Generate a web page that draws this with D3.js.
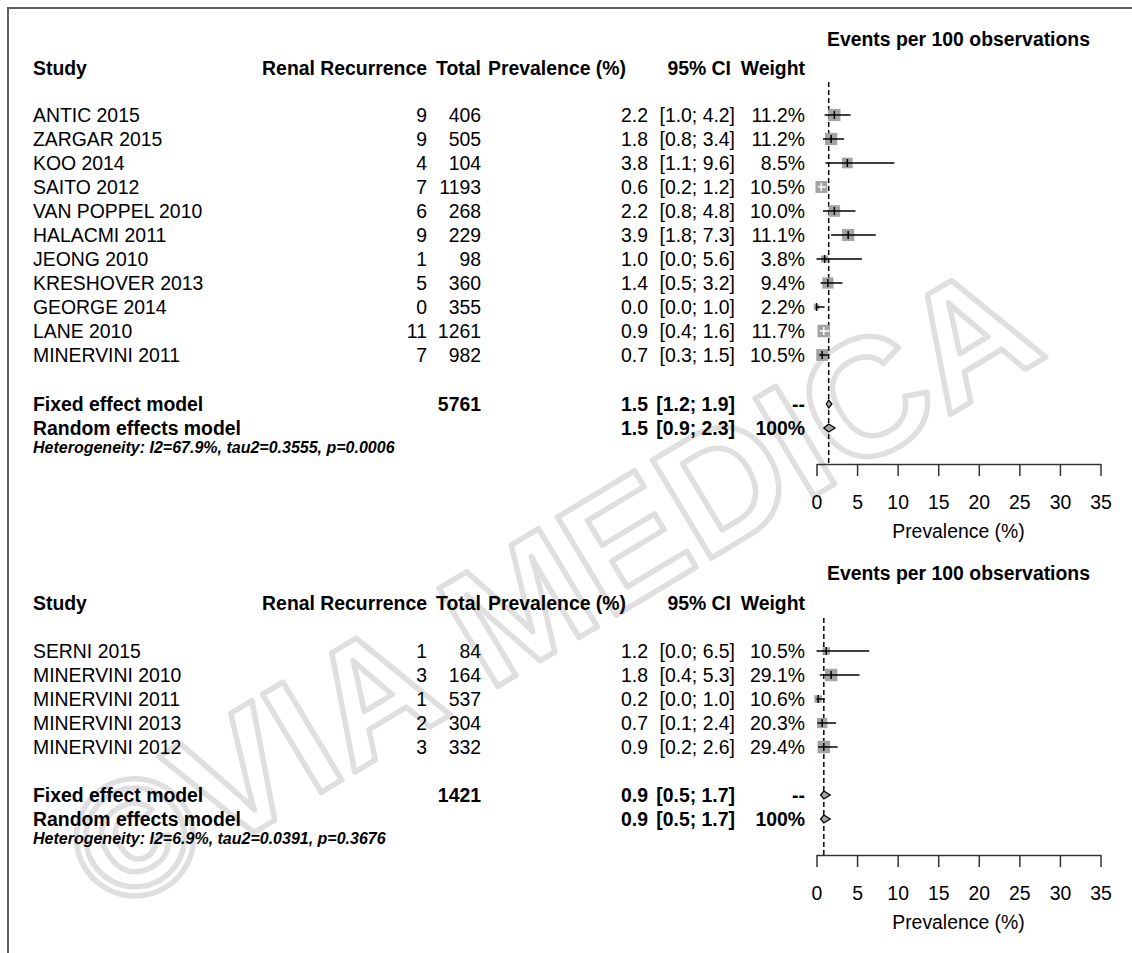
<!DOCTYPE html>
<html><head><meta charset="utf-8">
<script src="https://cdn.jsdelivr.net/npm/d3@7"></script>
<style>
body{margin:0;background:#fff}
svg text{font-family:"Liberation Sans",Arial,Helvetica,sans-serif}
</style>
</head><body>
<svg id="c" width="1132" height="953"></svg>
<script>
// ---------- data: panel 1 ----------
const studies1 = ["ANTIC 2015","ZARGAR 2015","KOO 2014","SAITO 2012","VAN POPPEL 2010","HALACMI 2011","JEONG 2010","KRESHOVER 2013","GEORGE 2014","LANE 2010","MINERVINI 2011"];
const events1  = [9,9,4,7,6,9,1,5,0,11,7];
const totals1  = [406,505,104,1193,268,229,98,360,355,1261,982];
const prev1    = [2.2,1.8,3.8,0.6,2.2,3.9,1.0,1.4,0.0,0.9,0.7];
const lower1   = [1.0,0.8,1.1,0.2,0.8,1.8,0.0,0.5,0.0,0.4,0.3];
const upper1   = [4.2,3.4,9.6,1.2,4.8,7.3,5.6,3.2,1.0,1.6,1.5];
const weights1 = [11.2,11.2,8.5,10.5,10.0,11.1,3.8,9.4,2.2,11.7,10.5];
const fixed1   = [1.5,1.2,1.9];
const random1  = [1.5,0.9,2.3];
const total1   = 5761;
const het1     = "Heterogeneity: I2=67.9%, tau2=0.3555, p=0.0006";

// ---------- data: panel 2 ----------
const studies2 = ["SERNI 2015","MINERVINI 2010","MINERVINI 2011","MINERVINI 2013","MINERVINI 2012"];
const events2  = [1,3,1,2,3];
const totals2  = [84,164,537,304,332];
const prev2    = [1.2,1.8,0.2,0.7,0.9];
const lower2   = [0.0,0.4,0.0,0.1,0.2];
const upper2   = [6.5,5.3,1.0,2.4,2.6];
const weights2 = [10.5,29.1,10.6,20.3,29.4];
const fixed2   = [0.9,0.5,1.7];
const random2  = [0.9,0.5,1.7];
const total2   = 1421;
const het2     = "Heterogeneity: I2=6.9%, tau2=0.0391, p=0.3676";

const axisTicks = [0,5,10,15,20,25,30,35];
const headers = ["Study","Renal Recurrence","Total","Prevalence (%)","95% CI","Weight"];
const plotTitle = "Events per 100 observations";
const axisTitle = "Prevalence (%)";
const watermark = "©VIA MEDICA";

// ---------- drawing ----------
const svg = d3.select("#c");
const FS = 19.4;
const x = d3.scaleLinear().domain([0,35]).range([816.5,1100.5]);

// faint outlined watermark (behind everything)
svg.append("text").attr("transform","translate(112,918) rotate(-31)")
  .attr("font-size",166).attr("font-weight","bold")
  .attr("fill","none").attr("stroke","#dfdfdf").attr("stroke-width",5.5)
  .attr("stroke-linejoin","round").text(watermark);

// frame
svg.append("path").attr("d","M8,953V8H1132").attr("fill","none").attr("stroke","#606060").attr("stroke-width",2);

// column anchors (right edges unless noted)
const C = {study:33, ev:427, tot:481, prevH:626, prev:648, ciH:731, ci:735, w:805};

const fmt1 = d3.format(".1f");
function ci(l,h){return "["+fmt1(l)+"; "+fmt1(h)+"]";}

function txt(g,x0,y0,s,opt={}){
  return g.append("text").attr("x",x0).attr("y",y0).attr("dy","0.35em")
    .attr("text-anchor",opt.anchor||"start")
    .attr("font-size",opt.size||FS)
    .attr("font-weight",opt.bold?"bold":"normal")
    .attr("font-style",opt.italic?"italic":"normal")
    .attr("fill","#000")
    .text(s);
}

function panel(d, L){
  const g = svg.append("g");
  const n = d.studies.length;
  const yRow = i => L.row0 + i*L.step;
  const box = d3.scaleSqrt().domain([0,d3.max(d.weights)]).range([0,12.5]);

  txt(g, x(17.5), L.title, plotTitle, {bold:true, anchor:"middle"});
  txt(g, C.study, L.head, headers[0], {bold:true});
  txt(g, C.ev, L.head, headers[1], {bold:true, anchor:"end"});
  txt(g, C.tot, L.head, headers[2], {bold:true, anchor:"end"});
  txt(g, C.prevH, L.head, headers[3], {bold:true, anchor:"end"});
  txt(g, C.ciH, L.head, headers[4], {bold:true, anchor:"end"});
  txt(g, C.w, L.head, headers[5], {bold:true, anchor:"end"});

  for(let i=0;i<n;i++){
    const y=yRow(i);
    txt(g,C.study,y,d.studies[i]);
    txt(g,C.ev,y,d.events[i],{anchor:"end"});
    txt(g,C.tot,y,d.totals[i],{anchor:"end"});
    txt(g,C.prev,y,fmt1(d.prev[i]),{anchor:"end"});
    txt(g,C.ci,y,ci(d.lower[i],d.upper[i]),{anchor:"end"});
    txt(g,C.w,y,fmt1(d.weights[i])+"%",{anchor:"end"});
  }
  txt(g,C.study,L.fixed,"Fixed effect model",{bold:true});
  txt(g,C.tot,L.fixed,d.total,{bold:true,anchor:"end"});
  txt(g,C.prev,L.fixed,fmt1(d.fixed[0]),{bold:true,anchor:"end"});
  txt(g,C.ci,L.fixed,ci(d.fixed[1],d.fixed[2]),{bold:true,anchor:"end"});
  txt(g,C.w,L.fixed,"--",{bold:true,anchor:"end"});
  txt(g,C.study,L.random,"Random effects model",{bold:true});
  txt(g,C.prev,L.random,fmt1(d.random[0]),{bold:true,anchor:"end"});
  txt(g,C.ci,L.random,ci(d.random[1],d.random[2]),{bold:true,anchor:"end"});
  txt(g,C.w,L.random,"100%",{bold:true,anchor:"end"});
  txt(g,C.study,L.het,d.het,{bold:true,italic:true,size:16});

  // reference line at random-effects estimate
  g.append("line").attr("x1",x(d.random[0])).attr("x2",x(d.random[0]))
    .attr("y1",L.dashTop).attr("y2",L.axis)
    .attr("stroke","#000").attr("stroke-width",1.5).attr("stroke-dasharray","5,3");

  // study squares and CIs
  for(let i=0;i<n;i++){
    const y=yRow(i), s=box(d.weights[i]), cx=x(d.prev[i]);
    g.append("rect").attr("x",cx-s/2).attr("y",y-s/2).attr("width",s).attr("height",s).attr("fill","#a3a3a3");
    const inside = x(d.lower[i])>=cx-s/2 && x(d.upper[i])<=cx+s/2;
    const col = inside?"#fff":"#000";
    g.append("line").attr("x1",x(d.lower[i])).attr("x2",x(d.upper[i])).attr("y1",y).attr("y2",y).attr("stroke",col).attr("stroke-width",1.5);
    g.append("line").attr("x1",cx).attr("x2",cx).attr("y1",y-4).attr("y2",y+4).attr("stroke",col).attr("stroke-width",1.5);
  }
  // diamonds
  [[d.fixed,L.fixed],[d.random,L.random]].forEach(([v,y])=>{
    const h=4;
    g.append("path").attr("d",`M${x(v[1])},${y}L${x(v[0])},${y-h}L${x(v[2])},${y}L${x(v[0])},${y+h}Z`)
      .attr("fill","#a3a3a3").attr("stroke","#000").attr("stroke-width",1.2);
  });

  // axis
  const ax = g.append("g").attr("transform",`translate(0,${L.axis})`)
    .call(d3.axisBottom(x).tickValues(axisTicks).tickSize(12).tickSizeOuter(0).tickPadding(19));
  ax.select(".domain").attr("stroke","#333").attr("stroke-width",1.5);
  ax.selectAll(".tick line").attr("stroke","#333").attr("stroke-width",1.5);
  ax.selectAll(".tick text").attr("font-size",FS).attr("font-family","Liberation Sans, Arial, sans-serif").attr("fill","#000");
  txt(g, x(17.5), L.xlab, axisTitle, {anchor:"middle"});
}

panel({studies:studies1,events:events1,totals:totals1,prev:prev1,lower:lower1,upper:upper1,weights:weights1,
       fixed:fixed1,random:random1,total:total1,het:het1},
      {title:39,head:68,row0:115,step:24,fixed:404,random:428,het:447,dashTop:82,axis:464,xlab:531});
panel({studies:studies2,events:events2,totals:totals2,prev:prev2,lower:lower2,upper:upper2,weights:weights2,
       fixed:fixed2,random:random2,total:total2,het:het2},
      {title:573,head:603,row0:651,step:24,fixed:795,random:819,het:838,dashTop:618,axis:855,xlab:922});
</script>
</body></html>
